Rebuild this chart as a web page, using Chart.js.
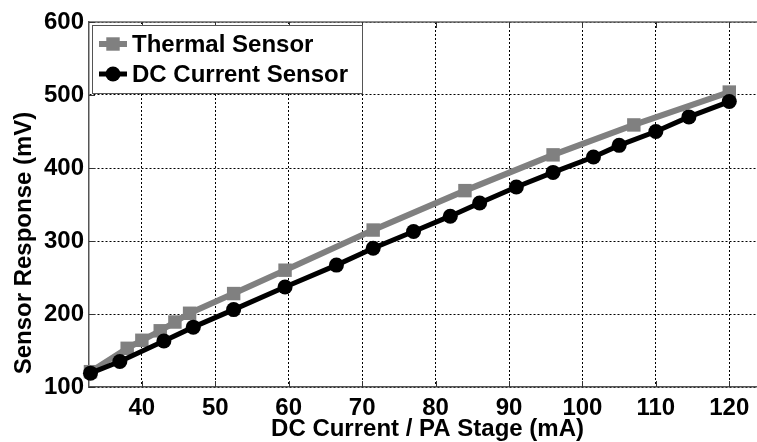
<!DOCTYPE html>
<html>
<head>
<meta charset="utf-8">
<script src="https://cdn.jsdelivr.net/npm/chart.js@4.4.1/dist/chart.umd.min.js"></script>
<style>
  html, body { margin: 0; padding: 0; background: #fff; overflow: hidden; }
  #quadro { width: 757px; height: 442px; overflow: hidden; }
</style>
</head>
<body>
<div id="quadro"><canvas id="graficoSensores" width="780" height="442"></canvas></div>
<script>
// Corrente DC do estágio PA (mA) e resposta de cada sensor (mV)
const correnteTermico = [33, 38, 40, 42.5, 44.5, 46.5, 52.5, 59.5, 71.5, 84, 96, 107, 120];
const respostaTermico = [121, 153, 164, 177, 189, 201, 228, 260, 315, 369, 418, 459, 504];
const correnteDC = [33, 37, 43, 47, 52.5, 59.5, 66.5, 71.5, 77, 82, 86, 91, 96, 101.5, 105, 110, 114.5, 120];
const respostaDC = [119, 135, 163, 182, 206, 237, 267, 290, 313, 334, 352, 374, 394, 415, 431, 450, 470, 491];

const ticksX = [40, 50, 60, 70, 80, 90, 100, 110, 120];
const ticksY = [100, 200, 300, 400, 500, 600];

const FONTE = "'Liberation Sans', Arial, sans-serif";

// Junta os pares (x, y) de cada série
function pontos(xs, ys) {
    return xs.map((x, i) => ({ x: x, y: ys[i] }));
}

// Moldura estilo MATLAB: borda superior e marcas de escala para dentro
const molduraPlugin = {
    id: "moldura",
    beforeDatasetsDraw(chart) {
        const { ctx, chartArea: a, scales } = chart;
        ctx.save();
        ctx.strokeStyle = "#666";
        ctx.lineWidth = 1.5;
        ctx.beginPath();
        ctx.moveTo(a.left, a.top);
        ctx.lineTo(a.right, a.top);
        ctx.lineTo(a.right, a.bottom);
        ctx.stroke();

        ctx.strokeStyle = "#333";
        ctx.lineWidth = 1;
        ctx.beginPath();
        ticksX.forEach(v => {
            const px = Math.round(scales.x.getPixelForValue(v)) + 0.5;
            ctx.moveTo(px, a.bottom);
            ctx.lineTo(px, a.bottom - 6);
            ctx.moveTo(px, a.top);
            ctx.lineTo(px, a.top + 6);
        });
        ticksY.forEach(v => {
            const py = Math.round(scales.y.getPixelForValue(v)) + 0.5;
            ctx.moveTo(a.left, py);
            ctx.lineTo(a.left + 6, py);
            ctx.moveTo(a.right, py);
            ctx.lineTo(a.right - 6, py);
        });
        ctx.stroke();
        ctx.restore();
    },
    afterDraw(chart) {
        const { ctx, chartArea: a } = chart;
        ctx.save();

        // Título do eixo Y
        ctx.fillStyle = "#000";
        ctx.font = "bold 24px " + FONTE;
        ctx.textAlign = "center";
        ctx.textBaseline = "middle";
        ctx.translate(24, 243);
        ctx.rotate(-Math.PI / 2);
        ctx.fillText("Sensor Response (mV)", 0, 0);
        ctx.setTransform(1, 0, 0, 1, 0, 0);

        // Legenda dentro da área do gráfico
        const bx = a.left + 3, by = a.top + 3, bw = 270, bh = 68;
        ctx.fillStyle = "#fff";
        ctx.fillRect(bx, by, bw, bh);
        ctx.strokeStyle = "#555";
        ctx.lineWidth = 1;
        ctx.strokeRect(bx + 0.5, by + 0.5, bw, bh);

        const ordem = [1, 0];
        ordem.forEach((idx, linha) => {
            const ds = chart.data.datasets[idx];
            const y = by + 19 + linha * 30;
            ctx.strokeStyle = ds.borderColor;
            ctx.lineWidth = ds.borderWidth;
            ctx.beginPath();
            ctx.moveTo(bx + 7, y);
            ctx.lineTo(bx + 35, y);
            ctx.stroke();
            ctx.fillStyle = ds.pointBackgroundColor;
            Chart.helpers.drawPoint(ctx, {
                pointStyle: ds.pointStyle,
                radius: ds.pointRadius,
                rotation: 0,
                borderWidth: 0
            }, bx + 21, y);
            ctx.fillStyle = "#000";
            ctx.font = "bold 24px " + FONTE;
            ctx.textAlign = "left";
            ctx.textBaseline = "middle";
            ctx.fillText(ds.label, bx + 40, y + 1);
        });
        ctx.restore();
    }
};

document.addEventListener("DOMContentLoaded", () => {
    const canvas = document.getElementById("graficoSensores");
    const ctx = canvas.getContext("2d");

    const fonteTicks = { family: FONTE, size: 24, weight: "bold" };

    new Chart(ctx, {
        type: "line",
        data: {
            datasets: [{
                // desenhado por cima da série térmica
                label: "DC Current Sensor",
                data: pontos(correnteDC, respostaDC),
                borderColor: "#000",
                borderWidth: 5,
                pointStyle: "circle",
                pointRadius: 7.5,
                pointBackgroundColor: "#000",
                pointBorderWidth: 0,
                tension: 0,
                clip: false
            }, {
                label: "Thermal Sensor",
                data: pontos(correnteTermico, respostaTermico),
                borderColor: "#808080",
                borderWidth: 6,
                pointStyle: "rect",
                pointRadius: 9.5,
                pointBackgroundColor: "#808080",
                pointBorderWidth: 0,
                tension: 0,
                clip: false
            }]
        },
        options: {
            responsive: false,
            devicePixelRatio: 1,
            animation: false,
            layout: { padding: { top: 22, right: 14, left: 0, bottom: 0 } },
            plugins: {
                legend: { display: false },
                tooltip: { enabled: false }
            },
            scales: {
                x: {
                    type: "linear",
                    min: 32.8,
                    max: 125,
                    afterBuildTicks: scale => { scale.ticks = ticksX.map(v => ({ value: v })); },
                    afterFit: scale => { scale.height = 55; },
                    ticks: { font: fonteTicks, color: "#000", padding: 7, maxRotation: 0 },
                    grid: { color: "#000", lineWidth: 1, drawTicks: false },
                    border: { display: true, color: "#555", width: 1.5, dash: [2, 2] },
                    title: {
                        display: true,
                        text: "DC Current / PA Stage (mA)",
                        color: "#000",
                        font: fonteTicks,
                        padding: { top: 0, bottom: -2 }
                    }
                },
                y: {
                    type: "linear",
                    min: 100,
                    max: 600,
                    afterBuildTicks: scale => { scale.ticks = ticksY.map(v => ({ value: v })); },
                    afterFit: scale => { scale.width = 89; },
                    ticks: { font: fonteTicks, color: "#000", padding: 5 },
                    grid: { color: "#000", lineWidth: 1, drawTicks: false },
                    border: { display: true, color: "#555", width: 1.5, dash: [2, 2] }
                }
            }
        },
        plugins: [molduraPlugin]
    });
});
</script>
</body>
</html>
